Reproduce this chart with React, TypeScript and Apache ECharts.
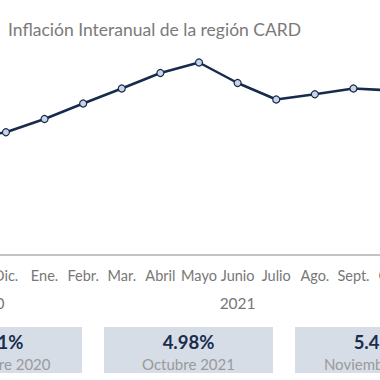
import React, { useEffect, useRef } from "react";
import * as echarts from "echarts";

const months = ["Nov.", "Dic.", "Ene.", "Febr.", "Mar.", "Abril", "Mayo", "Junio", "Julio", "Ago.", "Sept.", "Oct.", "Nov."];
const years = ["2020", "2020", "2021", "2021", "2021", "2021", "2021", "2021", "2021", "2021", "2021", "2021", "2021"];
const inflation = [3.04, 3.31, 3.84, 4.46, 5.06, 5.68, 6.1, 5.28, 4.62, 4.83, 5.06, 4.98, 5.45];
const kpiValues = ["3.31%", "4.98%", "5.45%"];
const kpiLabels = ["Diciembre 2020", "Octubre 2021", "Noviembre 2021"];
const titleText = "Inflación Interanual de la región CARD";

const FONT = "Lato, 'Noto Sans', sans-serif";

export default function App() {
  const ref = useRef<HTMLDivElement>(null);
  useEffect(() => {
    if (!ref.current) return;
    const chart = echarts.init(ref.current, null, { renderer: "svg" });

    const yearLabelAt: Record<number, { text: string; shift: number }> = {};
    const uniq = Array.from(new Set(years));
    uniq.forEach((y) => {
      const idx = years.map((v, i) => (v === y ? i : -1)).filter((i) => i >= 0);
      const mid = (idx[0] + idx[idx.length - 1]) / 2;
      const at = Math.ceil(mid);
      yearLabelAt[at] = { text: y, shift: at - mid };
    });
    const band = 38.6;

    const boxX = [-87, 104, 295];
    const boxW = 169;
    const graphics: any[] = [];
    kpiValues.forEach((v, i) => {
      graphics.push({
        type: "rect",
        shape: { x: boxX[i], y: 327, width: boxW, height: 46 },
        style: { fill: "#d6dde6" },
        silent: true,
      });
      graphics.push({
        type: "text",
        x: boxX[i] + boxW / 2,
        y: 342,
        style: {
          text: v,
          fill: "#1a2d4f",
          font: `bold 18.5px ${FONT}`,
          textAlign: "center",
          textVerticalAlign: "middle",
        },
      });
      graphics.push({
        type: "text",
        x: boxX[i] + boxW / 2,
        y: 364,
        style: {
          text: kpiLabels[i],
          fill: "#9a9a9a",
          font: `15px ${FONT}`,
          textAlign: "center",
          textVerticalAlign: "middle",
        },
      });
    });
    graphics.push({
      type: "text",
      x: 8,
      y: 29,
      style: {
        text: titleText,
        fill: "#7a7a7a",
        font: `17.5px ${FONT}`,
        textAlign: "left",
        textVerticalAlign: "middle",
      },
    });

    chart.setOption({
      animation: false,
      grid: { left: -52, right: -70, top: 40, bottom: 125, containLabel: false, outerBoundsMode: "none" },
      xAxis: [
        {
          type: "category",
          data: months,
          boundaryGap: true,
          axisLine: { show: true, onZero: false, lineStyle: { color: "#b0b0b0", width: 1.5 } },
          axisTick: { show: false },
          axisLabel: { interval: 0, color: "#777", fontSize: 14.5, fontFamily: FONT, margin: 13 },
        },
        {
          type: "category",
          data: years,
          position: "bottom",
          boundaryGap: true,
          axisLine: { show: false, onZero: false },
          axisTick: {
            show: true,
            length: 58,
            interval: (i: number) => i > 0 && years[i] !== years[i - 1],
            lineStyle: { color: "#b0b0b0", width: 1.5 },
          },
          axisLabel: {
            interval: 0,
            margin: 40,
            color: "#777",
            fontSize: 15.5,
            fontFamily: FONT,
            formatter: (_v: string, i: number) => {
              const e = yearLabelAt[i];
              if (!e) return "";
              return e.shift > 0 ? `{s|${e.text}}` : e.text;
            },
            rich: {
              s: {
                color: "#777",
                fontSize: 15.5,
                fontFamily: FONT,
                padding: [0, band, 0, 0],
              },
            },
          },
        },
      ],
      yAxis: { type: "value", min: -1.6, max: 7, show: false, splitLine: { show: false } },
      series: [
        {
          type: "line",
          data: inflation,
          xAxisIndex: 0,
          symbol: "circle",
          symbolSize: 7,
          lineStyle: { color: "#172b4d", width: 2.5 },
          itemStyle: { color: "#c9d4e6", borderColor: "#172b4d", borderWidth: 1.2 },
        },
      ],
      graphic: graphics,
    });
    return () => chart.dispose();
  }, []);
  return <div ref={ref} style={{ width: 380, height: 380, position: "absolute", left: 0, top: 0 }} />;
}
